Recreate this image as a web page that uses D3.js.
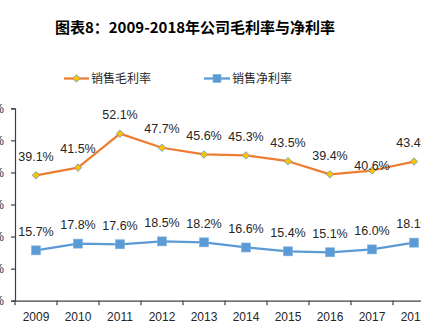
<!DOCTYPE html>
<html>
<head>
<meta charset="utf-8">
<script src="https://cdn.jsdelivr.net/npm/d3@7/dist/d3.min.js"></script>
<style>
  html, body { margin: 0; padding: 0; background: #fff; }
  svg { display: block; }
</style>
</head>
<body>
<svg id="chart" width="421" height="333"></svg>
<script>
const years = ["2009","2010","2011","2012","2013","2014","2015","2016","2017","2018"];
const grossMargin = [39.1, 41.5, 52.1, 47.7, 45.6, 45.3, 43.5, 39.4, 40.6, 43.4];
const netMargin = [15.7, 17.8, 17.6, 18.5, 18.2, 16.6, 15.4, 15.1, 16.0, 18.1];
const yTicks = [0, 10, 20, 30, 40, 50, 60];
const titleText = "图表8：2009-2018年公司毛利率与净利率";
const seriesNames = ["销售毛利率", "销售净利率"];

const svg = d3.select("#chart");
const W = 421, H = 333;
svg.append("rect").attr("width", W).attr("height", H).attr("fill", "#fff");

const numFont = "'Liberation Sans', Arial, sans-serif";
const cjkFont = "'Noto Sans CJK SC', 'Noto Sans', sans-serif";

const x = d3.scaleBand().domain(years).range([15, 435]).padding(0);
const y = d3.scaleLinear().domain([0, 60]).range([300.7, 108.3]);
const cx = d => x(d) + x.bandwidth() / 2;

// Title
svg.append("text")
  .attr("x", 195).attr("y", 33)
  .attr("text-anchor", "middle")
  .attr("font-family", cjkFont)
  .attr("font-weight", "bold")
  .attr("font-size", 15)
  .attr("fill", "#000")
  .text(titleText);

// Y axis
const yAxis = d3.axisLeft(y).tickValues(yTicks).tickSize(4).tickPadding(7)
  .tickFormat(d => d + "%");
const gy = svg.append("g").attr("transform", "translate(15,0)").call(yAxis);
gy.select(".domain").attr("stroke", "#404040").attr("stroke-width", 1.2);
gy.selectAll(".tick line").attr("stroke", "#404040").attr("stroke-width", 1.2);
gy.selectAll(".tick text").attr("font-family", numFont).attr("font-size", 12).attr("fill", "#262626");

// X axis
const xAxis = d3.axisBottom(x).tickSize(0).tickPadding(12);
const gx = svg.append("g").attr("transform", `translate(0,${y(0)})`).call(xAxis);
gx.select(".domain").attr("stroke", "#404040").attr("stroke-width", 1.2);
gx.selectAll(".tick text").attr("font-family", numFont).attr("font-size", 12).attr("fill", "#262626");
// tick marks at band edges
gx.selectAll(".edge").data(years).enter().append("line")
  .attr("x1", d => x(d)).attr("x2", d => x(d))
  .attr("y1", 0).attr("y2", 4.5)
  .attr("stroke", "#404040").attr("stroke-width", 1.2);

// Lines
const line = d3.line().x((d, i) => cx(years[i])).y(d => y(d));
svg.append("path").datum(grossMargin).attr("d", line)
  .attr("fill", "none").attr("stroke", "#ED7D31").attr("stroke-width", 2.25).attr("stroke-linejoin", "round");
svg.append("path").datum(netMargin).attr("d", line)
  .attr("fill", "none").attr("stroke", "#5B9BD5").attr("stroke-width", 2.25).attr("stroke-linejoin", "round");

// Markers
const diamond = d3.symbol().type(d3.symbolDiamond2).size(36);
svg.selectAll(".gm").data(grossMargin).enter().append("path")
  .attr("d", diamond)
  .attr("transform", (d, i) => `translate(${cx(years[i])},${y(d)})`)
  .attr("fill", "#FFC000").attr("stroke", "#5B9BD5").attr("stroke-width", 0.8);
svg.selectAll(".nm").data(netMargin).enter().append("rect")
  .attr("x", (d, i) => cx(years[i]) - 4.5).attr("y", d => y(d) - 4.5)
  .attr("width", 9).attr("height", 9)
  .attr("fill", "#5B9BD5").attr("stroke", "#7FB0DE").attr("stroke-width", 0.6);

// Data labels
const labelNudge = { "gross-2017": 14 };
function labels(data, key) {
  svg.selectAll(".lbl-" + key).data(data).enter().append("text")
    .attr("x", (d, i) => cx(years[i]))
    .attr("y", (d, i) => y(d) - 19 + (labelNudge[key + "-" + years[i]] || 0))
    .attr("dy", "0.35em")
    .attr("text-anchor", "middle")
    .attr("font-family", numFont).attr("font-size", 12.5).attr("fill", "#262626")
    .text(d => d.toFixed(1) + "%");
}
labels(grossMargin, "gross");
labels(netMargin, "net");

// Legend
const lg = svg.append("g");
lg.append("line").attr("x1", 64).attr("x2", 89).attr("y1", 78.5).attr("y2", 78.5)
  .attr("stroke", "#ED7D31").attr("stroke-width", 2.25);
lg.append("path").attr("d", diamond).attr("transform", "translate(76.5,78.5)")
  .attr("fill", "#FFC000").attr("stroke", "#5B9BD5").attr("stroke-width", 0.8);
lg.append("text").attr("x", 91).attr("y", 78.5).attr("dy", "0.35em")
  .attr("font-family", cjkFont).attr("font-size", 12).attr("fill", "#262626")
  .text(seriesNames[0]);
lg.append("line").attr("x1", 204).attr("x2", 230).attr("y1", 78.5).attr("y2", 78.5)
  .attr("stroke", "#5B9BD5").attr("stroke-width", 2.25);
lg.append("rect").attr("x", 213).attr("y", 74.5).attr("width", 8).attr("height", 8)
  .attr("fill", "#5B9BD5").attr("stroke", "#7FB0DE").attr("stroke-width", 0.6);
lg.append("text").attr("x", 232).attr("y", 78.5).attr("dy", "0.35em")
  .attr("font-family", cjkFont).attr("font-size", 12).attr("fill", "#262626")
  .text(seriesNames[1]);
</script>
</body>
</html>
